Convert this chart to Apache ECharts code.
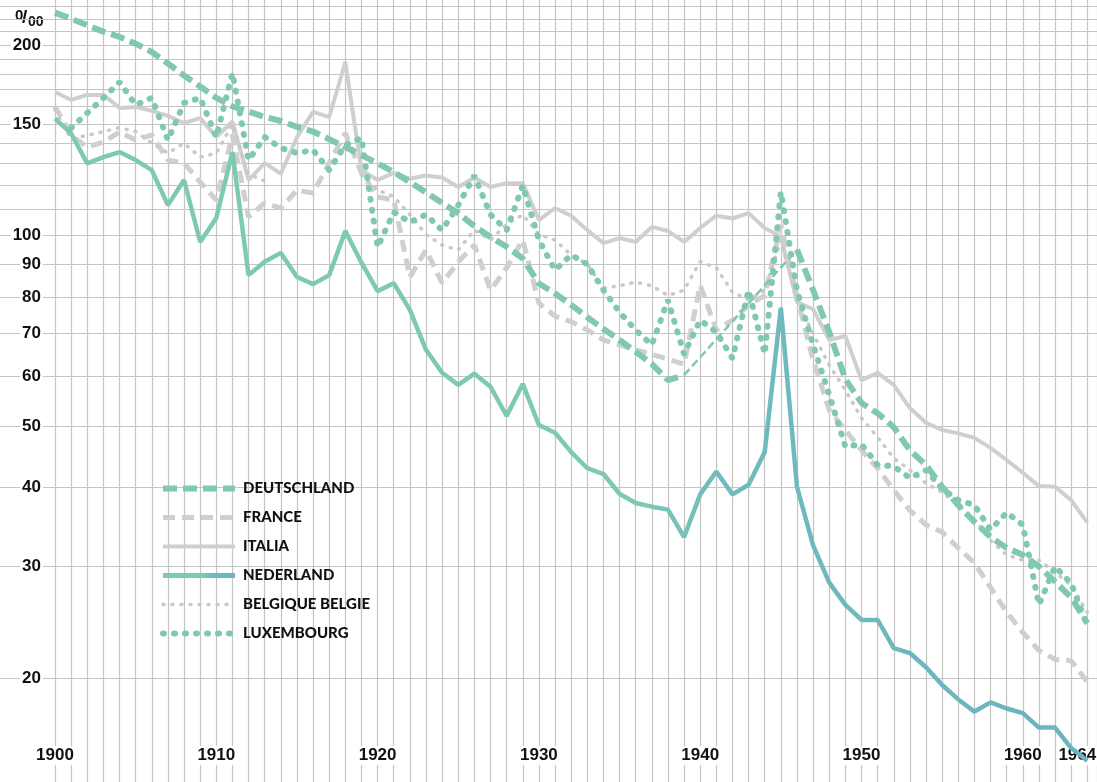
<!DOCTYPE html>
<html>
<head>
<meta charset="utf-8">
<script src="https://cdn.jsdelivr.net/npm/echarts@6/dist/echarts.min.js"></script>
<style>
  html, body { margin: 0; padding: 0; background: #fff; }
  #chart { width: 1097px; height: 782px; }
</style>
</head>
<body>
<div id="chart"></div>
<script>
var firstYear = 1900;

// infant mortality per 1000 live births (1900 .. 1964)
var deutschland = [225, 220, 215, 210, 206, 201, 195, 187, 179, 172,
    165, 160, 157, 154, 151.7, 148.5, 146, 142, 138, 134,
    130, 126, 121.5, 117, 112.6, 108.5, 103.5, 99.5, 96, 92,
    84, 81, 77.7, 74.3, 71.2, 68.4, 65.5, 62.7, 59.1, 60.2,
    null, null, null, null, null, null, 95, 82, 70.4, 59.3,
    54.4, 52.4, 49.8, 45.8, 43.4, 40.1, 37.5, 35.3, 33.4, 32.1,
    31.3, 30, 28.4, 26.8, 24.4];
// war years: only the thin connecting stroke
var deutschlandGap = [null, null, null, null, null, null, null, null, null, null,
    null, null, null, null, null, null, null, null, null, null,
    null, null, null, null, null, null, null, null, null, null,
    null, null, null, null, null, null, null, null, null, 60.2,
    null, null, null, null, null, null, 95, null, null, null,
    null, null, null, null, null, null, null, null, null, null,
    null, null, null, null, null];
var france = [160, 144, 138, 140.5, 145.7, 141.6, 144.2, 131.6, 130.2, 121.5,
    113.8, 144.2, 107, 112.6, 110.5, 118, 116.7, 130.2, 145.2, 125.6,
    115.1, 113.8, 86, 94.9, 84.1, 90.9, 96.6, 82, 88.9, 98.4,
    78.2, 74.6, 73.1, 70.9, 68.4, 67.2, 66, 64.9, 63.8, 62.6,
    83.5, 70.9, 73.5, 77.7, 80.4, 104, 80, 63.6, 53, 49.3,
    45.8, 42.9, 39.6, 36.8, 34.9, 34, 32.1, 30.4, 27.8, 25.4,
    23.6, 22.1, 21.4, 21.3, 19.7];
var italia = [168.6, 163.8, 166.8, 166.8, 159.1, 159.7, 157.4, 154.6, 150.6, 153.3,
    143.1, 151.4, 122.4, 130.2, 125.3, 143, 156.8, 153.9, 188, 126.9,
    122.4, 125.6, 123, 124.4, 123.5, 119.3, 123.5, 119.3, 121, 121,
    105.8, 110.5, 107.5, 102, 97.3, 99.1, 97.7, 103.2, 101.7, 97.7,
    102.8, 107.5, 106.4, 108.5, 102.8, 99.6, 78.5, 76.5, 68.4, 69.4,
    59.1, 60.7, 58.1, 53.4, 50.6, 49.3, 48.7, 47.9, 46.2, 44.2,
    42.2, 40.2, 40.1, 38.2, 35.2];
var nederland = [153, 145, 130, 133, 135.5, 131.6, 126.9, 111.7, 122.4, 97.7,
    106.6, 135.5, 86.6, 90.9, 93.9, 86, 83.8, 86.6, 101.7, 90.6,
    81.7, 84.1, 76.3, 66, 60.7, 58.1, 60.5, 57.7, 51.9, 58.3,
    50.2, 48.8, 45.5, 42.9, 42, 39.1, 37.8, 37.3, 36.9, 33.4,
    39, 42.4, 39, 40.4, 45.5, 76.9, 40.1, 32.4, 28.3, 26.1,
    24.7, 24.7, 22.3, 21.9, 20.8, 19.5, 18.5, 17.7, 18.3, 17.9,
    17.6, 16.7, 16.7, 15.5, 14.8];
var belgique = [158, 142, 144, 146, 148, 146, 140, 135, 140, 133,
    135, 150, 125, 122, null, null, null, null, null, 124.6,
    118, 115.2, 107.9, 100.4, 96.6, 94.9, 102, 98.4, 104.2, 107.9,
    100.4, 98.4, 93.2, 90.1, 82.6, 83.3, 84.4, 83.3, 80.4, 82,
    91, 88.9, 81.4, 79.1, 82, 98.4, 79, 70, 62.4, 57,
    51.5, 48, 44.5, 42.6, 40.6, 39.3, 37.5, 35.6, 33, 31.3,
    30.7, 30.7, 29.4, 28, 25.4];
var luxembourg = [null, 147.9, 156.2, 165, 174.8, 160.8, 165, 141.6, 162, 165,
    143.1, 180.6, 131.6, 143.1, 137.5, 135, 136.5, 126.9, 139, 142.6,
    95.9, 108.9, 105, 107.9, 102, 111.7, 124.4, 107.9, 102, 120,
    98.4, 88.2, 93.2, 90.1, 82, 75.7, 70.9, 67.2, 79.1, 65,
    73.5, 70.4, 64, 82, 65, 117.2, 82, 67.2, 56, 46.4,
    46.8, 43.4, 43.2, 41.4, 42.6, 39.8, 38.2, 37.5, 34.3, 36.5,
    34.9, 26.1, 30, 28.2, 24.2];

var yearLabels = [1900, 1910, 1920, 1930, 1940, 1950, 1960, 1964];
var yLabels = [20, 30, 40, 50, 60, 70, 80, 90, 100, 150, 200];
var yGrid = [20, 30, 40, 50, 60, 70, 80, 90, 100, 110, 120, 130, 140, 150,
    160, 170, 180, 190, 200, 210, 220, 230];

var green = '#80c9ae';
var grey = '#cfcfcf';
var gridGrey = '#c4c4c4';
var labelFont = 'Liberation Sans Narrow, Liberation Sans, Arial';

function pairs(values) {
    var out = [];
    for (var i = 0; i < values.length; i++) {
        out.push([firstYear + i, values[i]]);
    }
    return out;
}

function legendEntry(name, width) {
    return { name: name, lineStyle: { width: width } };
}

var chart = echarts.init(document.getElementById('chart'), null, { renderer: 'canvas' });

var option = {
    animation: false,
    backgroundColor: '#fff',
    grid: { left: 55, right: 0, top: 0, bottom: 0, containLabel: false, outerBoundsMode: 'none' },
    xAxis: {
        type: 'value',
        min: 1900,
        max: 1964.6,
        interval: 1,
        axisLine: { show: false },
        axisTick: { show: false },
        splitLine: { show: true, lineStyle: { color: gridGrey, width: 1.2 } },
        axisLabel: {
            customValues: yearLabels,
            inside: true,
            margin: 17,
            hideOverlap: false,
            color: '#111',
            fontFamily: labelFont,
            fontWeight: 'bold',
            fontSize: 17,
            backgroundColor: '#fff',
            padding: [1, 1],
            formatter: function (v) {
                var y = Math.round(v);
                // last label sits against the right edge
                return y === 1964 ? '{last|' + y + '}' : String(y);
            },
            rich: {
                last: {
                    fontFamily: labelFont,
                    fontWeight: 'bold',
                    fontSize: 17,
                    color: '#111',
                    padding: [0, 20, 0, 0]
                }
            }
        }
    },
    yAxis: {
        type: 'log',
        logBase: 10,
        min: 13.7,
        max: 235.6,
        axisLine: { show: false },
        axisTick: {
            show: true,
            length: 55,
            customValues: yGrid,
            lineStyle: { color: gridGrey, width: 1.2 }
        },
        splitLine: { show: true, lineStyle: { color: gridGrey, width: 1.2 } },
        axisLabel: {
            customValues: yLabels,
            margin: 12,
            color: '#111',
            fontFamily: labelFont,
            fontWeight: 'bold',
            fontSize: 17,
            backgroundColor: '#fff',
            padding: [0, 2]
        }
    },
    legend: {
        orient: 'vertical',
        left: 155,
        top: 476,
        itemWidth: 72,
        itemHeight: 14,
        itemGap: 14,
        selectedMode: false,
        itemStyle: { opacity: 0 },
        data: [
            legendEntry('DEUTSCHLAND', 6),
            legendEntry('FRANCE', 5),
            legendEntry('ITALIA', 4),
            legendEntry('NEDERLAND', 5),
            legendEntry('BELGIQUE BELGIE', 3.5),
            legendEntry('LUXEMBOURG', 6)
        ],
        textStyle: {
            color: '#111',
            fontFamily: 'Lato, Open Sans, sans-serif',
            fontWeight: 900,
            fontSize: 15,
            lineHeight: 13,
            padding: [0, 0, 0, 3]
        }
    },
    graphic: [
        { type: 'text', left: 15, top: 8, style: { text: '0', font: 'bold 15px ' + labelFont, fill: '#111' } },
        { type: 'text', left: 22, top: 8, style: { text: '/', font: 'bold 19px ' + labelFont, fill: '#111' } },
        { type: 'text', left: 28, top: 15, style: { text: '00', font: 'bold 14px ' + labelFont, fill: '#111' } }
    ],
    series: [
        {
            name: 'DEUTSCHLAND',
            type: 'line',
            data: pairs(deutschland),
            symbol: 'none',
            connectNulls: false,
            z: 6,
            lineStyle: { color: green, width: 6, type: [14, 6] },
            itemStyle: { color: green }
        },
        {
            name: 'DEUTSCHLAND',
            type: 'line',
            data: pairs(deutschlandGap),
            symbol: 'none',
            connectNulls: true,
            z: 6,
            lineStyle: { color: green, width: 2.5, type: [8, 4] },
            itemStyle: { color: green }
        },
        {
            name: 'FRANCE',
            type: 'line',
            data: pairs(france),
            symbol: 'none',
            z: 3,
            lineStyle: { color: grey, width: 5, type: [12, 7] },
            itemStyle: { color: grey }
        },
        {
            name: 'ITALIA',
            type: 'line',
            data: pairs(italia),
            symbol: 'none',
            z: 3,
            lineStyle: { color: grey, width: 4 },
            itemStyle: { color: grey }
        },
        {
            name: 'NEDERLAND',
            type: 'line',
            data: pairs(nederland),
            symbol: 'none',
            z: 5,
            lineStyle: {
                width: 4.5,
                color: {
                    type: 'linear', x: 0, y: 0, x2: 1, y2: 0,
                    colorStops: [
                        { offset: 0, color: '#7ecab0' },
                        { offset: 0.56, color: '#7ecab0' },
                        { offset: 0.64, color: '#70bbbd' },
                        { offset: 1, color: '#6cb3c1' }
                    ]
                }
            },
            itemStyle: { color: '#7ecab0' }
        },
        {
            name: 'BELGIQUE BELGIE',
            type: 'line',
            data: pairs(belgique),
            symbol: 'none',
            z: 3,
            lineStyle: { color: '#c9c9c9', width: 3.5, type: [1, 8], cap: 'round' },
            itemStyle: { color: '#c9c9c9' }
        },
        {
            name: 'LUXEMBOURG',
            type: 'line',
            data: pairs(luxembourg),
            symbol: 'none',
            z: 4,
            lineStyle: { color: green, width: 6, type: [1, 10], cap: 'round' },
            itemStyle: { color: green }
        }
    ]
};

chart.setOption(option);
</script>
</body>
</html>
